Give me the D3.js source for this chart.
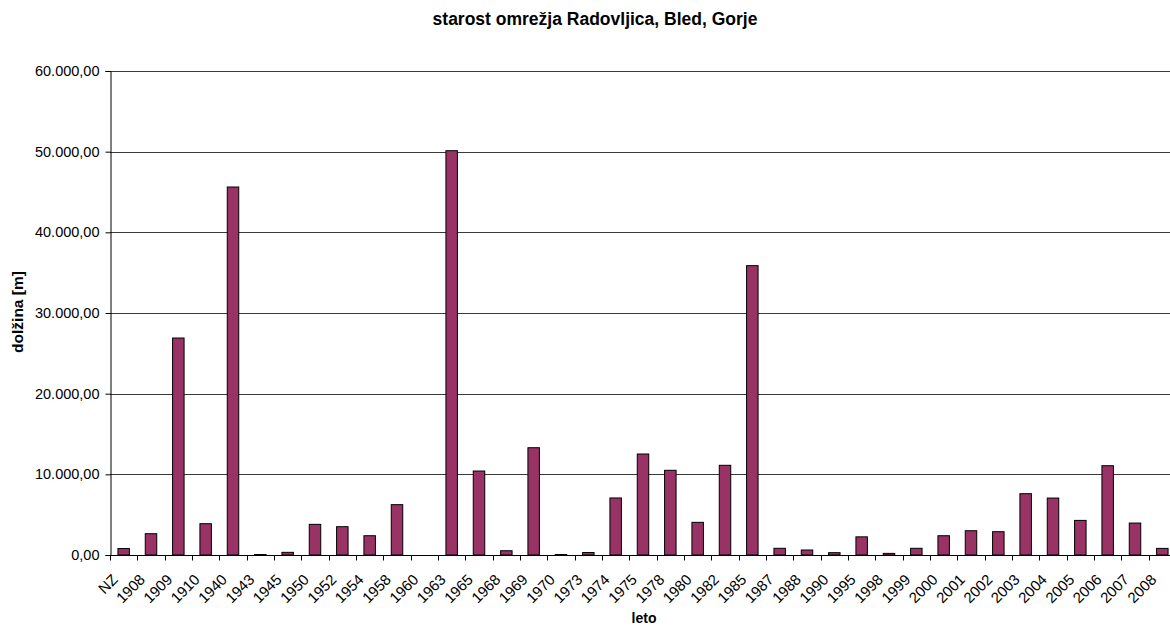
<!DOCTYPE html>
<html>
<head>
<meta charset="utf-8">
<script src="https://cdn.jsdelivr.net/npm/d3@7"></script>
<style>
  html, body { margin: 0; padding: 0; background: #fff; }
  svg { display: block; font-family: "Liberation Sans", Arial, sans-serif; }
</style>
</head>
<body>
<svg id="chart" width="1170" height="628"></svg>
<script>
// Network age: pipe length per year of construction
const categories = ["NZ","1908","1909","1910","1940","1943","1945","1950","1952","1954","1958","1960",
  "1963","1965","1968","1969","1970","1973","1974","1975","1978","1980","1982","1985","1987","1988",
  "1990","1995","1998","1999","2000","2001","2002","2003","2004","2005","2006","2007","2008"];
const lengths = [800, 2640, 26900, 3880, 45620, 60, 330, 3800, 3510, 2390, 6240, 0,
  50120, 10410, 530, 13300, 60, 310, 7070, 12520, 10500, 4050, 11120, 35870, 830, 620,
  290, 2250, 200, 830, 2390, 3010, 2890, 7600, 7060, 4290, 11070, 3960, 820];
const yTicks = [0, 10000, 20000, 30000, 40000, 50000, 60000];

const title = "starost omrežja Radovljica, Bled, Gorje";
const xTitle = "leto";
const yTitle = "dolžina [m]";

const svg = d3.select("#chart");
const margin = { left: 110, top: 71, bottom: 73 };
const plotW = 1066;
const plotH = 628 - margin.top - margin.bottom;

const locale = d3.formatLocale({ decimal: ",", thousands: ".", grouping: [3], currency: ["", " €"] });
const fmt = locale.format(",.2f");

const x = d3.scaleBand().domain(categories).range([margin.left, margin.left + plotW]).padding(0);
const y = d3.scaleLinear().domain([0, 60000]).range([margin.top + plotH, margin.top]);

// horizontal gridlines
svg.append("g")
  .selectAll("line")
  .data(yTicks.filter(d => d > 0))
  .join("line")
  .attr("x1", margin.left).attr("x2", margin.left + plotW)
  .attr("y1", d => Math.round(y(d)) + 0.5).attr("y2", d => Math.round(y(d)) + 0.5)
  .attr("stroke", "#3a3a3a").attr("stroke-width", 1);

// bars
const barW = x.bandwidth() * 0.42;
svg.append("g")
  .selectAll("rect")
  .data(categories.map((c, i) => ({ c, v: lengths[i] })))
  .join("rect")
  .attr("x", d => x(d.c) + (x.bandwidth() - barW) / 2)
  .attr("y", d => y(d.v))
  .attr("width", barW)
  .attr("height", d => y(0) - y(d.v))
  .attr("fill", "#993366")
  .attr("stroke", "#000")
  .attr("stroke-width", d => d.v > 0 ? 1 : 0);

// y axis
const yAxis = svg.append("g")
  .attr("transform", `translate(${margin.left + 0.5},0)`)
  .call(d3.axisLeft(y).tickValues(yTicks).tickFormat(fmt).tickSize(5).tickPadding(6));
yAxis.select(".domain").attr("stroke", "#000");
yAxis.selectAll(".tick line").attr("stroke", "#000");
yAxis.selectAll(".tick text")
  .attr("font-size", "14.5px").attr("fill", "#000")
  .attr("font-family", "Liberation Sans, Arial, sans-serif");

// x axis baseline and category separators
const xAxisG = svg.append("g").attr("transform", `translate(0,${Math.round(y(0)) + 0.5})`);
xAxisG.append("line")
  .attr("x1", margin.left).attr("x2", margin.left + plotW)
  .attr("stroke", "#000");
xAxisG.selectAll("line.sep")
  .data(categories)
  .join("line").attr("class", "sep")
  .attr("x1", d => Math.round(x(d)) + 0.5).attr("x2", d => Math.round(x(d)) + 0.5)
  .attr("y1", 0).attr("y2", 5)
  .attr("stroke", "#000");

// rotated category labels
xAxisG.selectAll("text")
  .data(categories)
  .join("text")
  .attr("transform", d => `translate(${x(d) + x.bandwidth() / 2 - 5},${25}) rotate(-45)`)
  .attr("text-anchor", "end")
  .attr("font-size", "15px")
  .attr("fill", "#000")
  .text(d => d);

// titles
svg.append("text")
  .attr("x", 595).attr("y", 25)
  .attr("text-anchor", "middle")
  .attr("font-size", "17.5px").attr("font-weight", "bold")
  .text(title);

svg.append("text")
  .attr("x", 644).attr("y", 623)
  .attr("text-anchor", "middle")
  .attr("font-size", "14px").attr("font-weight", "bold")
  .text(xTitle);

svg.append("text")
  .attr("transform", `translate(23,${312}) rotate(-90)`)
  .attr("text-anchor", "middle")
  .attr("font-size", "15.5px").attr("font-weight", "bold")
  .text(yTitle);
</script>
</body>
</html>
